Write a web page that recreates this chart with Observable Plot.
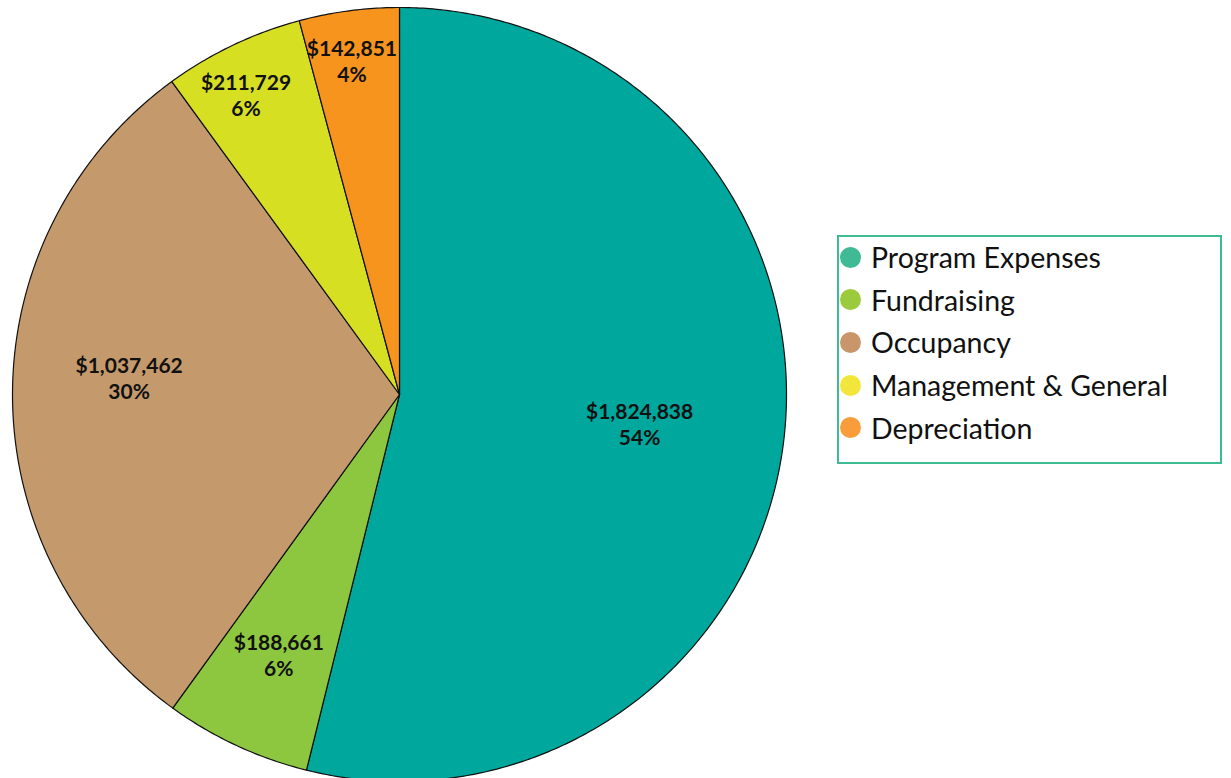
<!DOCTYPE html>
<html>
<head>
<meta charset="utf-8">
<script src="https://cdn.jsdelivr.net/npm/d3@7"></script>
<script src="https://cdn.jsdelivr.net/npm/@observablehq/plot@0.6"></script>
<style>
  html, body { margin: 0; padding: 0; background: #fff; }
  #wrap { position: relative; width: 1231px; height: 778px; overflow: hidden; }
  #legend {
    position: absolute; left: 837px; top: 235px; width: 381px; height: 225px;
    border: 2px solid #3DBB92; font-family: Lato, "Open Sans", sans-serif;
    font-size: 28.5px; color: #111;
  }
  .item { position: absolute; left: 0; height: 30px; display: flex; align-items: center; white-space: nowrap; }
  .sw { width: 21px; height: 21px; border-radius: 50%; margin-left: 1px; margin-right: 10px; flex: none; }
</style>
</head>
<body>
<div id="wrap"><div id="legend"></div></div>
<script>
// ---- data ----
const categories = ["Program Expenses", "Fundraising", "Occupancy", "Management & General", "Depreciation"];
const amounts = [1824838, 188661, 1037462, 211729, 142851];
const percentLabels = ["54%", "6%", "30%", "6%", "4%"];
// slice shares (%) as drawn in the picture
const sliceShares = [53.87, 6.10, 30.03, 5.84, 4.17];

// ---- styling ----
const pieColors = ["#00A79D", "#8DC63F", "#C49A6C", "#D7DF23", "#F7941D"];
const legendColors = ["#40BA94", "#9BCB3C", "#C8966A", "#F3E63A", "#F99C3A"];
const labelRadius = [0.625, 0.741, 0.70, 0.87, 0.872];
const labelNudgeDeg = [0, 0, 3.6, -1.6, -0.6];

const W = 1231, H = 778;
const cx = 399, cy = 394, R = 387;

const fmt = d3.format("$,");
const pie = d3.pie().sort(null).value(d => d.share).startAngle(0).endAngle(2 * Math.PI);
const arcs = pie(categories.map((c, i) => ({cat: c, share: sliceShares[i], amount: amounts[i], i})));

const pts = [];
arcs.forEach(a => {
  pts.push({cat: a.data.cat, x: 0, y: 0});
  const n = Math.max(4, Math.ceil((a.endAngle - a.startAngle) / (Math.PI / 360)));
  for (let k = 0; k <= n; k++) {
    const t = a.startAngle + (a.endAngle - a.startAngle) * k / n;
    pts.push({cat: a.data.cat, x: Math.sin(t), y: Math.cos(t)});
  }
  pts.push({cat: a.data.cat, x: 0, y: 0});
});

const labels = arcs.map((a, i) => {
  const m = (a.startAngle + a.endAngle) / 2 + labelNudgeDeg[i] * Math.PI / 180;
  const r = labelRadius[i];
  return {x: r * Math.sin(m), y: r * Math.cos(m), text: fmt(a.data.amount) + "\n" + percentLabels[i]};
});

const ymin = 1 - (H - (cy - R)) / R;

const chart = Plot.plot({
  width: W, height: H,
  marginLeft: cx - R, marginRight: W - (cx + R), marginTop: cy - R, marginBottom: 0,
  x: {domain: [-1, 1], axis: null},
  y: {domain: [ymin, 1], axis: null},
  color: {domain: categories, range: pieColors},
  marks: [
    Plot.line(pts, {x: "x", y: "y", z: "cat", fill: "cat", stroke: "#111", strokeWidth: 1.2, curve: "linear"}),
    Plot.text(labels, {x: "x", y: "y", text: "text", fontSize: 21, fontWeight: "bold",
      fontFamily: "Lato, sans-serif", fill: "#111", lineHeight: 1.25})
  ]
});
chart.style.position = "absolute";
chart.style.left = "0px";
chart.style.top = "0px";
document.getElementById("wrap").prepend(chart);

const legend = d3.select("#legend");
categories.forEach((c, i) => {
  const it = legend.append("div").attr("class", "item").style("top", (5 + i * 42.7) + "px");
  it.append("div").attr("class", "sw").style("background", legendColors[i]);
  it.append("span").text(c);
});
</script>
</body>
</html>
